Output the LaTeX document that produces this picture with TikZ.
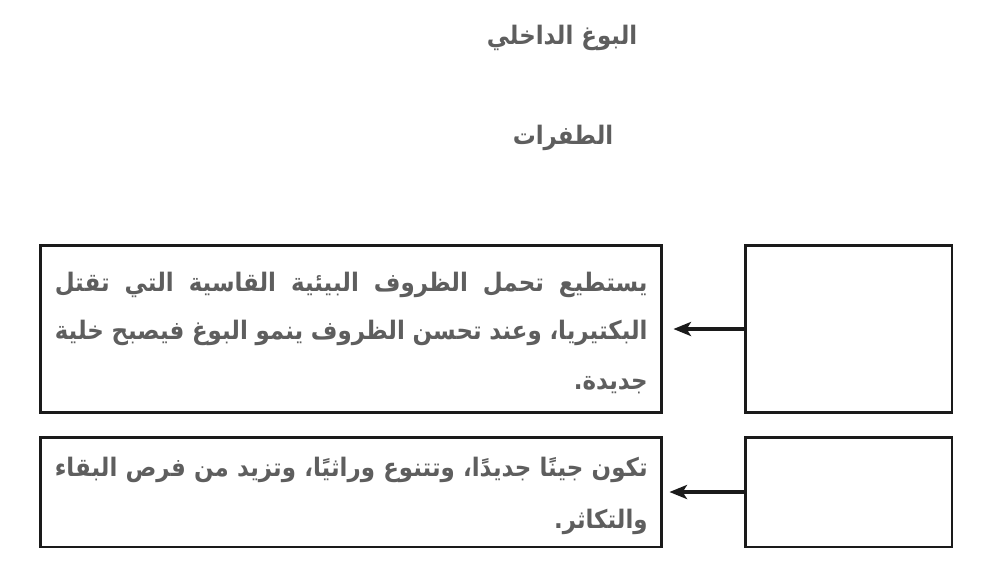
\documentclass[tikz,border=0pt]{standalone}
\usepackage{fontspec}
\TeXXeTstate=1
\newfontfamily\arabicfont[Script=Arabic,FakeStretch=0.9]{DejaVu Sans}
\usetikzlibrary{arrows.meta,calc}
\definecolor{txtgray}{HTML}{5E5E5E}
\definecolor{boxline}{HTML}{1A1A1A}
\newcommand{\jline}[1]{\hbox to 11.86cm{\beginR #1\endR}}
\begin{document}
\begin{tikzpicture}[x=0.02cm,y=-0.02cm,
  box/.style={draw=boxline,line width=1.7pt,rectangle,inner sep=0pt},
  txt/.style={font=\arabicfont\bfseries\fontsize{14.5pt}{16pt}\selectfont,text=txtgray,inner sep=0pt},
  arr/.style={draw=boxline,line width=2pt,-{Stealth[length=10pt,width=8pt,inset=2.5pt]}}]
\useasboundingbox (0,0) rectangle (1000,572);
\node[txt] (t1) at (562,38) {\beginR البوغ الداخلي\endR};
\node[txt] (t2) at (563,138) {\beginR الطفرات\endR};
\node[box,minimum width=12.44cm,minimum height=3.36cm] (l1) at (351,329) {};
\node[box,minimum width=4.14cm,minimum height=3.36cm] (r1) at (848.5,329) {};
\node[box,minimum width=12.44cm,minimum height=2.2cm] (l2) at (351,492) {};
\node[box,minimum width=4.14cm,minimum height=2.2cm] (r2) at (848.5,492) {};
\node[txt,anchor=east] (a1) at (648,285) {\jline{يستطيع تحمل الظروف البيئية القاسية التي تقتل}};
\node[txt,anchor=east] (a2) at (648,333) {\jline{البكتيريا، وعند تحسن الظروف ينمو البوغ فيصبح خلية}};
\node[txt,anchor=east] (a3) at (648,385) {\beginR جديدة.\endR};
\node[txt,anchor=east] (b1) at (648,470) {\jline{تكون جينًا جديدًا، وتتنوع وراثيًا، وتزيد من فرص البقاء}};
\node[txt,anchor=east] (b2) at (648,522) {\beginR والتكاثر.\endR};
\draw[arr,shorten >=0.2cm] (r1.west) -- (l1.east);
\draw[arr,shorten >=0.12cm] (r2.west) -- (l2.east);
\end{tikzpicture}
\end{document}
